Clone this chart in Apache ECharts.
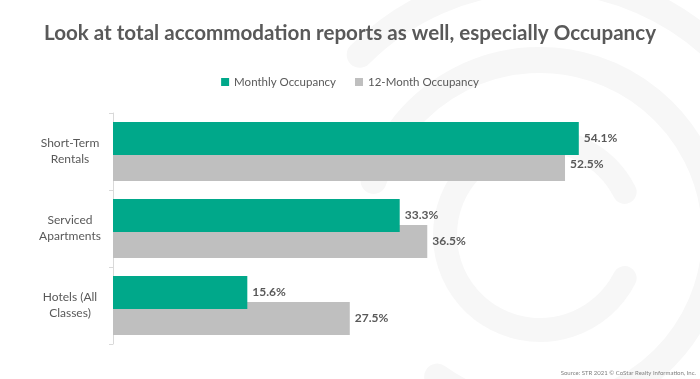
<!DOCTYPE html>
<html><head><meta charset="utf-8">
<script src="https://cdn.jsdelivr.net/npm/echarts@6/dist/echarts.min.js"></script>
<style>html,body{margin:0;padding:0;background:#fff}#c{width:700px;height:379px}</style>
</head><body><div id="c"></div>
<script>
const categories = ['Short-Term\nRentals', 'Serviced\nApartments', 'Hotels (All\nClasses)'];
const monthly = [54.1, 33.3, 15.6];
const twelveMonth = [52.5, 36.5, 27.5];
const seriesNames = ['Monthly Occupancy', '12-Month Occupancy'];
const titleText = 'Look at total accommodation reports as well, especially Occupancy';
const sourceText = 'Source: STR 2021 \u00A9 CoStar Realty Information, Inc.';

const FONT = 'Lato';
const TXT = '#595959';
const chart = echarts.init(document.getElementById('c'), null, {renderer: 'canvas'});
const ring = (r, w, a0, a1) => ({
  type: 'arc', silent: true, z: -10,
  shape: {cx: 540, cy: 235, r: r, startAngle: a0, endAngle: a1},
  style: {stroke: '#f7f7f7', lineWidth: w, fill: null, lineCap: 'round'}
});
const labelFmt = p => p.value.toFixed(1) + '%';
chart.setOption({
  backgroundColor: '#ffffff',
  animation: false,
  title: {
    text: titleText, left: 'center', top: 18,
    textStyle: {fontFamily: FONT, fontSize: 20.6, fontWeight: 'bold', color: TXT}
  },
  graphic: [
    ring(95, 24, Math.PI * 0.15, Math.PI * 1.85),
    ring(175, 26, -Math.PI * 0.9, Math.PI * 0.7),
    ring(255, 26, -Math.PI * 0.75, Math.PI * 0.35),
    {type: 'text', right: 4, bottom: 3, silent: true,
     style: {text: sourceText, fontFamily: FONT, fontSize: 6, fill: '#7f7f7f'}}
  ],
  legend: {
    data: seriesNames, left: 'center', top: 71,
    itemWidth: 8, itemHeight: 8, itemGap: 19, itemTextGap: 4, icon: 'rect',
    textStyle: {fontFamily: FONT, fontSize: 11.5, color: TXT}
  },
  grid: {left: 113, top: 113, width: 516.6, height: 231, containLabel: false},
  xAxis: {type: 'value', min: 0, max: 60, show: false},
  yAxis: {
    type: 'category', data: categories, inverse: true,
    axisLine: {show: true, lineStyle: {color: '#d9d9d9', width: 1}},
    axisTick: {show: true, length: 4, lineStyle: {color: '#d9d9d9'}},
    axisLabel: {fontFamily: FONT, fontSize: 12, lineHeight: 16, color: TXT, align: 'center', margin: 43}
  },
  series: [
    {name: seriesNames[0], type: 'bar', data: monthly, barWidth: 33, barGap: '-21%', z: 3,
     itemStyle: {color: '#00a88a'},
     label: {show: true, position: 'right', distance: 5, formatter: labelFmt,
             fontFamily: FONT, fontSize: 12, fontWeight: 'bold', color: TXT}},
    {name: seriesNames[1], type: 'bar', data: twelveMonth, barWidth: 33, barGap: '-21%', z: 2,
     itemStyle: {color: '#bfbfbf'},
     label: {show: true, position: 'right', distance: 5, formatter: labelFmt,
             fontFamily: FONT, fontSize: 12, fontWeight: 'bold', color: TXT}}
  ]
});
</script></body></html>
